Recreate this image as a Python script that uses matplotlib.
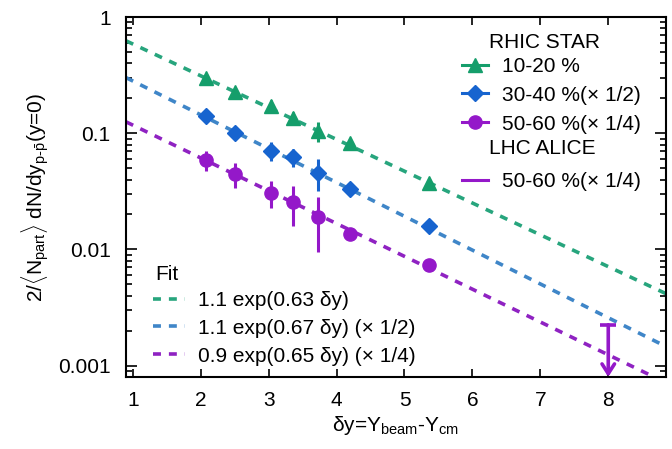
import numpy as np
import matplotlib
matplotlib.use('Agg')
import matplotlib.pyplot as plt
from matplotlib.lines import Line2D
from matplotlib.ticker import LogLocator, NullFormatter, FixedLocator

plt.rcParams['font.family'] = ['Liberation Sans', 'DejaVu Sans']
plt.rcParams['mathtext.fontset'] = 'custom'
plt.rcParams['mathtext.rm'] = 'Liberation Sans'
plt.rcParams['mathtext.it'] = 'Liberation Sans:italic'
plt.rcParams['mathtext.bf'] = 'Liberation Sans:bold'
FS = 15

# RHIC STAR data (delta y, yield, error)
dy_star = [2.08, 2.50, 3.04, 3.36, 3.72, 4.20, 5.36]
cent_10_20 = [0.30, 0.225, 0.172, 0.135, 0.104, 0.082, 0.037]
err_10_20 = [0.01, 0.008, 0.022, 0.016, 0.02, 0.003, 0.0015]
cent_30_40 = [0.141, 0.101, 0.071, 0.0625, 0.0456, 0.0332, 0.0158]
err_30_40 = [0.006, 0.004, 0.013, 0.011, 0.014, 0.0015, 0.0007]
cent_50_60 = [0.059, 0.0447, 0.0307, 0.0256, 0.019, 0.0136, 0.0073]
err_50_60 = [0.012, 0.011, 0.0078, 0.0098, 0.0095, 0.0006, 0.0004]

# LHC ALICE upper limit
alice_dy = 8.0
alice_up = 0.00225

# fits: A * exp(-b dy) * scale
fit_A = [1.1, 1.1, 0.9]
fit_b = [0.63, 0.67, 0.65]
fit_scale = [1.0, 0.5, 0.25]
fit_labels = ['1.1 exp(0.63 δy)', '1.1 exp(0.67 δy) (× 1/2)', '0.9 exp(0.65 δy) (× 1/4)']

green, blue, purple = '#159e6b', '#1764cf', '#9418c9'
fit_colors = ['#27a57d', '#3f86c8', '#8f22c2']

xlim = (0.9, 8.85)
ylim = (8.0e-4, 1.0)

fig = plt.figure(figsize=(6.72, 4.49), dpi=100)
ax = fig.add_axes([126/672, 1-377/449, 540/672, 360/449])
ax.set_yscale('log')
ax.set_xlim(*xlim)
ax.set_ylim(*ylim)

# fit lines
xx = np.linspace(xlim[0], xlim[1], 200)
for A, b, s, c in zip(fit_A, fit_b, fit_scale, fit_colors):
    ax.plot(xx, A * np.exp(-b * xx) * s, ls=(0, (2.2, 2.2)), lw=2.6, color=c, zorder=2)

# data
ax.errorbar(dy_star, cent_10_20, yerr=err_10_20, fmt='^', color=green, ms=10, elinewidth=2.2, capsize=0, zorder=3)
ax.errorbar(dy_star, cent_30_40, yerr=err_30_40, fmt='D', color=blue, ms=8, elinewidth=2.2, capsize=0, zorder=3)
ax.errorbar(dy_star, cent_50_60, yerr=err_50_60, fmt='o', color=purple, ms=9.5, elinewidth=2.2, capsize=0, zorder=3)

# ALICE upper limit arrow
ax.plot([alice_dy], [alice_up], marker='_', ms=11, mew=2.6, color=purple, zorder=4)
ax.annotate('', xy=(alice_dy, ylim[0]), xytext=(alice_dy, alice_up),
            arrowprops=dict(arrowstyle='->, head_length=0.7, head_width=0.45',
                            lw=2.6, color=purple, shrinkA=0, shrinkB=0), zorder=4)

# axes styling
for sp in ax.spines.values():
    sp.set_linewidth(1.5)
ax.set_xticks(range(1, 9))
ax.yaxis.set_major_locator(FixedLocator([1e-3, 1e-2, 1e-1, 1]))
ax.set_yticklabels(['0.001', '0.01', '0.1', '1'])
ax.yaxis.set_minor_locator(LogLocator(base=10, subs=np.arange(2, 10)))
ax.yaxis.set_minor_formatter(NullFormatter())
ax.tick_params(which='both', direction='in', top=True, right=True, labelsize=FS, width=1.2)
ax.tick_params(axis='y', which='major', length=8, pad=11)
ax.tick_params(axis='x', which='major', length=6, pad=10)
ax.tick_params(which='minor', length=4)

ax.set_xlabel('δy=Y$_{\\rm beam}$-Y$_{\\rm cm}$', fontsize=FS, labelpad=3)
ax.set_ylabel(r'2/$\langle$N$_{\rm part}\rangle$ dN/dy$_{\rm p\text{-}\bar{p}}$(y=0)', fontsize=FS, labelpad=5)

# STAR / ALICE legend
handles = [Line2D([], [], color=green, marker='^', ms=10, lw=2.2),
           Line2D([], [], color=blue, marker='D', ms=8, lw=2.2),
           Line2D([], [], color=purple, marker='o', ms=9.5, lw=2.2),
           Line2D([], [], ls='none'),
           Line2D([], [], color=purple, lw=2.2)]
labels = ['10-20 %', '30-40 %(× 1/2)', '50-60 %(× 1/4)', ' ', '50-60 %(× 1/4)']
leg1 = ax.legend(handles, labels, loc='upper left', bbox_to_anchor=((462-126)/540, (377-57)/360),
                 frameon=False, fontsize=FS, borderpad=0, borderaxespad=0, handlelength=1.25,
                 handletextpad=0.65, labelspacing=0.47)
ax.add_artist(leg1)
ax.text((489-126)/540, (377-43)/360, 'RHIC STAR', transform=ax.transAxes, fontsize=FS, va='center', ha='left')
ax.text((489-126)/540, (377-148)/360, 'LHC ALICE', transform=ax.transAxes, fontsize=FS, va='center', ha='left')

# fit legend
fh = [Line2D([], [], color=c, ls=(0, (2.2, 2.2)), lw=2.6) for c in fit_colors]
ax.legend(fh, fit_labels, loc='upper left', bbox_to_anchor=((153-126)/540, (377-291)/360),
          frameon=False, fontsize=FS, borderpad=0, borderaxespad=0, handlelength=1.55,
          handletextpad=0.62, labelspacing=0.42)
ax.text((155-126)/540, (377-275)/360, 'Fit', transform=ax.transAxes, fontsize=FS, va='center', ha='left')

fig.savefig('out.png', dpi=100)
